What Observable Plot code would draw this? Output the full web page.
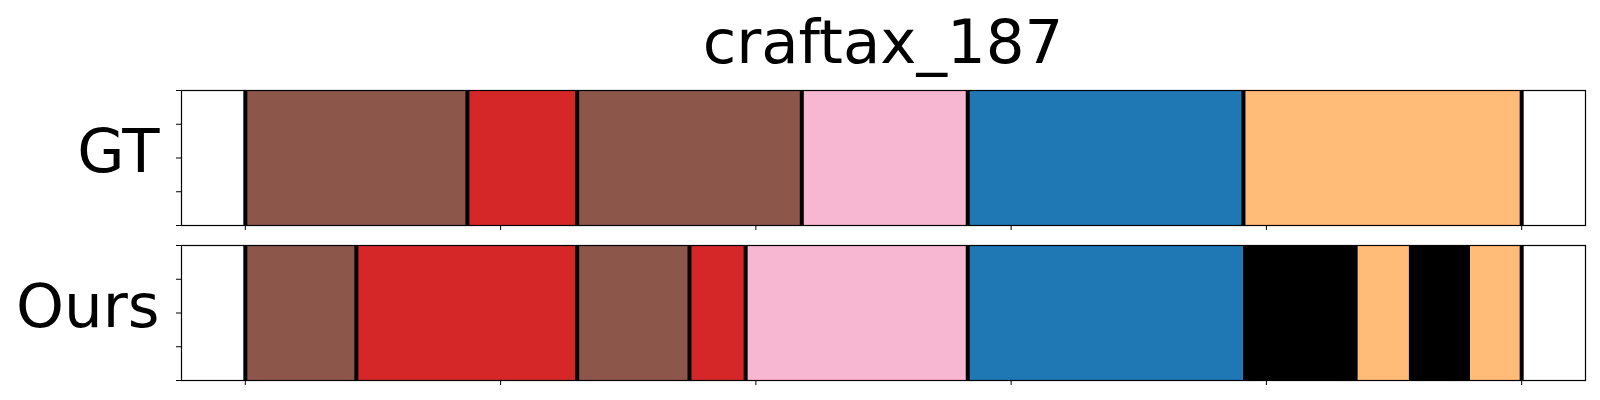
<!DOCTYPE html>
<html>
<head>
<meta charset="utf-8">
<script src="https://cdn.jsdelivr.net/npm/d3@7"></script>
<script src="https://cdn.jsdelivr.net/npm/@observablehq/plot@0.6"></script>
<style>
  html, body { margin: 0; padding: 0; background: #fff; }
  #title {
    width: 1600px; box-sizing: border-box;
    padding-left: 181px; padding-right: 15px; padding-top: 11px;
    height: 80px;
    font-family: "DejaVu Sans", sans-serif; font-size: 61px; line-height: 1;
    text-align: center; color: #000;
  }
</style>
</head>
<body>
<div id="title">craftax_187</div>
<div id="chart"></div>
<script>
// ---- data ----
const rows = ["GT", "Ours"];
const gtBounds = [0, 87, 130, 218, 283, 391, 500];
const gtLabels = ["A", "B", "A", "C", "D", "E"];
const oursBounds = [0, 43.5, 130, 174, 196, 283, 391, 436, 456, 480, 500];
const oursLabels = ["A", "B", "A", "B", "C", "D", "X", "E", "X", "E"];
const classes = ["A", "B", "C", "D", "E", "X"];
const classColors = ["#8c564b", "#d62728", "#f7b6d2", "#1f77b4", "#ffbb78", "#000000"];
const xTicks = [0, 100, 200, 300, 400, 500];
const yTicks = [0, 0.25, 0.5, 0.75, 1];

// ---- build tables ----
function segments(row, bounds, labels) {
  return labels.map((label, i) => ({row, x1: bounds[i], x2: bounds[i + 1], label}));
}
function boundaries(row, bounds, labels) {
  const out = [];
  labels.forEach((label, i) => {
    if (i === 0 || (label !== "X" && labels[i - 1] !== "X")) out.push({row, x: bounds[i]});
  });
  out.push({row, x: bounds[bounds.length - 1]});
  return out;
}
const segs = [...segments("GT", gtBounds, gtLabels), ...segments("Ours", oursBounds, oursLabels)];
const rules = [...boundaries("GT", gtBounds, gtLabels), ...boundaries("Ours", oursBounds, oursLabels)];

const chart = Plot.plot({
  width: 1600,
  height: 320,
  marginLeft: 181,
  marginRight: 15,
  marginTop: 10,
  marginBottom: 20,
  style: {fontFamily: "DejaVu Sans, sans-serif", color: "#000", background: "#fff"},
  x: {domain: [-25, 525]},
  y: {domain: [0, 1]},
  fy: {domain: rows, paddingInner: 20 / 155, paddingOuter: 0},
  color: {domain: classes, range: classColors},
  marks: [
    Plot.rect(segs, {x1: "x1", x2: "x2", y1: 0, y2: 1, fy: "row", fill: "label"}),
    Plot.ruleX(rules, {x: "x", y1: 0, y2: 1, fy: "row", stroke: "#000", strokeWidth: 4}),
    Plot.frame({stroke: "#000", strokeWidth: 1.2}),
    Plot.axisX({ticks: xTicks, tickSize: 5, tickFormat: () => "", label: null, facetAnchor: null}),
    Plot.axisY({ticks: yTicks, tickSize: 5, tickFormat: () => "", label: null}),
    Plot.axisFy({anchor: "left", fontSize: 61, tickSize: 0, tickPadding: 22, label: null, dy: -6})
  ]
});
document.getElementById("chart").appendChild(chart);
</script>
</body>
</html>
